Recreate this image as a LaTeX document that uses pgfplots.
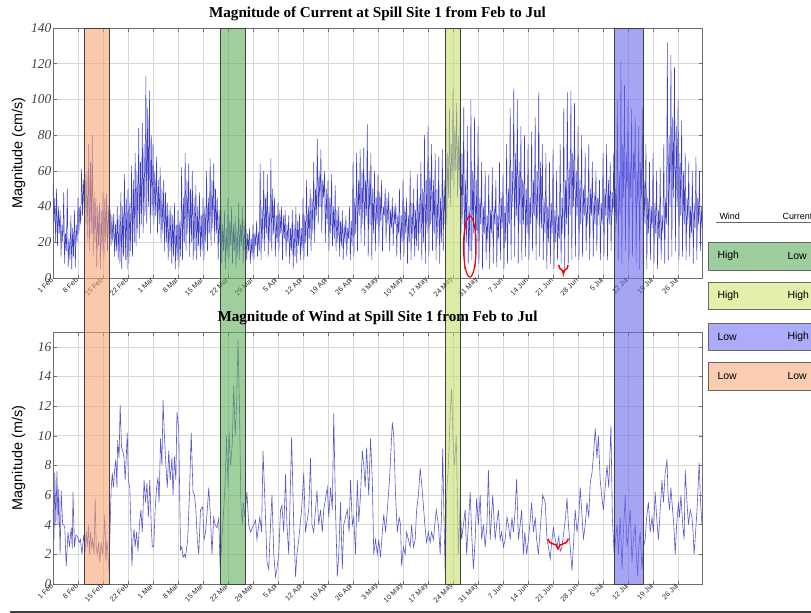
\documentclass[border=0pt]{standalone}
\usepackage{fontspec}
\setmainfont{Liberation Serif}
\setsansfont{Liberation Sans}
\usepackage{pgfplots}
\usepackage{pgfplotstable}
\pgfplotsset{compat=1.18}
\usetikzlibrary{decorations.pathreplacing}
\definecolor{dataline}{RGB}{62,62,196}
\definecolor{windline}{RGB}{88,88,204}
\definecolor{gridc}{RGB}{216,216,216}
\definecolor{axisc}{RGB}{110,110,110}
\definecolor{bandOrange}{RGB}{247,163,113}
\definecolor{bandGreen}{RGB}{95,175,90}
\definecolor{bandYellow}{RGB}{197,222,105}
\definecolor{bandBlue}{RGB}{105,105,236}
\definecolor{boxGreen}{RGB}{158,206,158}
\definecolor{boxYellow}{RGB}{226,240,172}
\definecolor{boxBlue}{RGB}{172,172,250}
\definecolor{boxOrange}{RGB}{250,204,176}

\pgfplotstableread[row sep=\\, header=false]{
52\\30\\45\\20\\ 50\\18\\40\\25\\ 38\\12\\30\\20\\ 48\\8\\25\\15\\ 50\\6\\22\\10\\ 35\\5\\28\\12\\ 38\\6\\30\\20\\
45\\25\\40\\30\\ 61\\35\\55\\38\\ 58\\30\\60\\20\\ 75\\15\\65\\25\\ 80\\12\\48\\20\\ 45\\6\\40\\18\\ 42\\5\\38\\15\\
48\\10\\45\\20\\ 47\\15\\40\\22\\ 38\\18\\35\\20\\ 36\\12\\30\\15\\ 40\\10\\35\\8\\ 48\\5\\40\\12\\ 58\\10\\45\\5\\
50\\8\\42\\15\\ 63\\12\\55\\20\\ 70\\18\\60\\25\\ 84\\22\\65\\30\\ 87\\25\\75\\35\\ 113\\30\\95\\40\\ 105\\25\\80\\35\\
75\\30\\60\\35\\ 68\\25\\55\\30\\ 62\\20\\50\\25\\ 55\\15\\48\\20\\ 42\\10\\38\\15\\ 40\\8\\35\\12\\ 42\\5\\30\\10\\
38\\6\\32\\12\\ 62\\10\\45\\20\\ 70\\15\\55\\25\\ 64\\12\\50\\20\\ 60\\10\\45\\15\\ 52\\10\\40\\18\\ 48\\12\\35\\15\\
45\\10\\40\\20\\ 60\\15\\45\\25\\ 67\\18\\55\\28\\ 64\\20\\50\\25\\ 45\\10\\38\\20\\ 42\\8\\30\\15\\ 38\\5\\28\\12\\
45\\10\\32\\18\\ 40\\8\\30\\15\\ 35\\6\\28\\12\\ 42\\10\\30\\18\\ 40\\8\\32\\15\\ 30\\10\\25\\15\\ 28\\8\\22\\12\\
30\\10\\25\\18\\ 32\\12\\26\\15\\ 64\\10\\40\\20\\ 60\\15\\45\\25\\ 58\\12\\40\\20\\ 67\\15\\50\\25\\ 45\\12\\35\\20\\
42\\15\\38\\25\\ 40\\10\\35\\22\\ 38\\12\\30\\20\\ 35\\8\\28\\15\\ 38\\5\\30\\12\\ 40\\8\\32\\18\\ 36\\10\\28\\15\\
45\\10\\35\\20\\ 55\\12\\40\\22\\ 50\\15\\45\\25\\ 65\\20\\50\\35\\ 78\\30\\60\\40\\ 72\\25\\55\\45\\ 60\\20\\50\\30\\
55\\15\\45\\25\\ 58\\18\\40\\22\\ 52\\15\\38\\20\\ 40\\12\\32\\18\\ 38\\10\\30\\20\\ 35\\12\\28\\22\\ 40\\10\\32\\18\\
65\\12\\45\\25\\ 70\\15\\55\\35\\ 72\\20\\60\\30\\ 73\\18\\55\\35\\ 86\\12\\60\\30\\ 70\\10\\50\\25\\ 60\\15\\45\\30\\
58\\18\\48\\32\\ 55\\15\\40\\35\\ 50\\20\\45\\30\\ 48\\15\\38\\28\\ 45\\18\\40\\30\\ 42\\12\\35\\25\\ 50\\10\\35\\20\\
55\\12\\40\\25\\ 45\\8\\35\\20\\ 60\\10\\42\\22\\ 50\\12\\38\\18\\ 58\\15\\45\\25\\ 65\\10\\50\\20\\ 80\\8\\55\\25\\
85\\12\\60\\30\\ 75\\15\\55\\25\\ 70\\10\\50\\22\\ 68\\8\\45\\20\\ 72\\15\\55\\30\\ 90\\30\\70\\45\\ 95\\40\\75\\55\\
106\\50\\85\\60\\ 98\\45\\80\\50\\ 95\\25\\70\\30\\ 96\\5\\55\\20\\ 85\\8\\40\\15\\ 100\\10\\60\\25\\ 90\\6\\55\\20\\
85\\8\\45\\30\\ 65\\5\\40\\25\\ 60\\10\\35\\20\\ 58\\5\\38\\25\\ 62\\8\\40\\30\\ 55\\6\\35\\22\\ 65\\10\\45\\28\\
58\\5\\40\\20\\ 75\\8\\50\\30\\ 95\\10\\60\\40\\ 106\\12\\70\\35\\ 100\\8\\65\\30\\ 85\\10\\55\\30\\ 80\\12\\50\\25\\
75\\10\\45\\30\\ 82\\15\\55\\35\\ 90\\10\\60\\30\\ 104\\12\\65\\28\\ 75\\10\\45\\25\\ 70\\5\\40\\20\\ 65\\8\\42\\25\\
72\\5\\38\\20\\ 60\\10\\35\\22\\ 75\\8\\45\\25\\ 95\\5\\55\\30\\ 104\\8\\65\\35\\ 105\\10\\70\\40\\ 98\\12\\60\\35\\
85\\10\\55\\30\\ 80\\12\\50\\35\\ 70\\15\\45\\30\\ 75\\10\\50\\35\\ 65\\12\\48\\30\\ 60\\15\\45\\35\\ 55\\10\\42\\30\\
70\\12\\50\\35\\ 75\\10\\55\\30\\ 65\\15\\48\\35\\ 70\\12\\50\\30\\ 100\\10\\60\\35\\ 121\\8\\75\\45\\ 108\\15\\70\\50\\
100\\10\\65\\45\\ 95\\12\\70\\55\\ 90\\8\\60\\40\\ 85\\5\\65\\45\\ 95\\8\\55\\30\\ 75\\5\\45\\25\\ 65\\10\\40\\28\\
70\\8\\42\\25\\ 60\\5\\38\\22\\ 62\\10\\35\\25\\ 75\\8\\45\\30\\ 132\\10\\80\\40\\ 125\\12\\90\\45\\ 118\\15\\85\\40\\
100\\10\\70\\35\\ 88\\12\\60\\30\\ 70\\10\\45\\30\\ 65\\12\\40\\25\\ 60\\8\\42\\28\\ 68\\10\\45\\30\\ 60\\15\\40\\28\\
}\currenttable

\pgfplotsset{chartstyle/.style={
  scale only axis, width=649bp, xmin=0, xmax=181.7,
  xtick={0,7,...,175},
  xticklabels={1 Feb,8 Feb,15 Feb,22 Feb,1 Mar,8 Mar,15 Mar,22 Mar,29 Mar,5 Apr,12 Apr,19 Apr,26 Apr,3 May,10 May,17 May,24 May,31 May,7 Jun,14 Jun,21 Jun,28 Jun,5 Jul,12 Jul,19 Jul,26 Jul},
  grid=major, major grid style={gridc, line width=0.6pt},
  axis line style={axisc, line width=0.6pt}, tick style={axisc, line width=0.5pt},
  major tick length=3.5bp, tick align=inside,
  /pgf/number format/assume math mode=true,
  x tick label style={rotate=45, anchor=east, font=\sffamily\fontsize{7.2}{7.5}\selectfont, inner sep=1.5bp, text=black!85},
  y tick label style={font=\itshape\fontsize{13.5}{14}\selectfont, inner sep=1.5bp, text=black!75},
  ylabel style={at={(axis description cs:-0.053,0.5)}, anchor=center, font=\sffamily\fontsize{14.5}{15}\selectfont},
  title style={font=\bfseries\fontsize{15.2}{16}\selectfont, at={(axis description cs:0.5,1)}, anchor=south, yshift=-2.5bp},
  clip=false,
}}

\begin{document}
\begin{tikzpicture}
\useasboundingbox (0,0) rectangle (811bp,-613bp);
\clip (0,0) rectangle (811bp,-613bp);

\begin{axis}[chartstyle,
  at={(53bp,-278bp)}, anchor=south west, height=250bp,
  ymin=0, ymax=140, ytick={0,20,...,140},
  ylabel={Magnitude (cm/s)},
  title={Magnitude of Current at Spill Site 1 from Feb to Jul}]
\addplot[dataline, line width=0.5pt, no markers] table[x expr=\coordindex*0.25, y index=0] {\currenttable};
\draw[red, line width=1.2pt] (axis cs:116.7,17.6) ellipse [x radius=6.3bp, y radius=30.5bp];
\draw[red, line width=1.5pt, decorate, decoration={brace, amplitude=9bp, mirror}] (axis cs:141.6,7.3) -- (axis cs:144.2,7.3);
\end{axis}

\begin{axis}[chartstyle,
  at={(53bp,-584bp)}, anchor=south west, height=252bp,
  ymin=0, ymax=17, ytick={0,2,...,16},
  ylabel={Magnitude (m/s)},
  title={Magnitude of Wind at Spill Site 1 from Feb to Jul}]
\addplot[windline, line width=0.6pt, no markers] coordinates {
(0,5) (0.3,3) (0.5,7.5) (0.8,4) (1.1,7.6) (1.4,4) (1.6,6.4) (2.0,2) (2.3,6.3) (2.7,4) (3.0,4) (3.3,3.8) (3.7,1.2) (4.2,3.5) (4.6,2.5) (5.1,3.8) (5.4,2.4) (5.6,6.2) (6.0,2.5) (6.4,3.3) (6.9,3.2) (7.3,2.8) (7.7,3) (8.1,2) (8.6,3.3) (9.0,2.2) (9.3,3.5) (9.6,2.5) (9.9,4) (10.2,2) (10.5,3.5) (10.8,2.5) (11.1,3) (11.5,2) (11.8,5.8) (12.1,2.5) (12.4,2) (12.8,2.8) (13.1,1.5) (13.5,2.8) (13.9,2) (14.2,3) (14.5,4.7) (14.8,1.5) (15.1,3) (15.4,2) (15.7,0.8) (16.0,4) (16.3,6.5) (16.6,7.5) (16.9,6.5) (17.3,7.8) (17.6,8.4) (17.9,6.5) (18.1,9.7) (18.5,8.5) (18.8,12.1) (19.2,9.2) (19.5,9) (19.9,8.5) (20.2,7) (20.5,8.5) (20.8,10.2) (21.1,7) (21.5,6.5) (21.8,4) (22.1,1.2) (22.4,3) (22.7,3.7) (23.0,2.5) (23.4,3.5) (23.8,2.2) (24.2,4) (24.6,5) (25.0,3.5) (25.5,7) (25.9,5.5) (26.3,6.8) (26.7,4.5) (27.1,7) (27.5,4) (27.8,2.5) (28.2,2.5) (28.6,5) (29.0,6.5) (29.4,7.2) (29.7,5.5) (30.1,9.8) (30.5,8) (30.8,12.4) (31.2,10) (31.6,8) (32.0,6.5) (32.4,9) (32.8,7) (33.3,8.5) (33.6,6) (34.0,8.6) (34.4,7) (34.7,11.6) (35.2,10.5) (35.7,2.3) (36.1,2.5) (36.4,1.8) (36.8,2) (37.1,1.8) (37.7,3) (38.2,6) (38.7,10.2) (39.2,6.2) (39.6,6) (40.0,5) (40.4,3) (40.8,2) (41.3,5) (41.9,5.2) (42.3,3) (42.7,3.5) (43.2,5) (43.6,6.5) (44.1,4.5) (44.5,2) (45.0,4.5) (45.4,4) (45.9,3.8) (46.4,4.4) (46.8,1) (47.3,3) (47.8,5) (48.2,7) (48.6,10) (49.0,6.5) (49.3,10.3) (49.7,8) (50.2,9.5) (50.6,13.4) (51.0,10) (51.4,12) (51.8,16.5) (52.2,12) (52.6,5.5) (53.0,4) (53.3,5.5) (53.7,4.5) (54.3,6.2) (54.8,4) (55.3,3.5) (56.0,3.9) (56.7,4.3) (57.1,3) (57.9,4.5) (58.4,3.5) (58.8,9.0) (59.5,4.5) (59.9,1.5) (60.4,1) (60.9,4) (61.3,6) (61.8,2) (62.3,0.5) (62.7,1) (63.2,2) (63.7,5) (64.1,5.3) (64.6,3.5) (65.1,7.4) (65.5,4) (66.0,2) (66.8,9.9) (67.4,4) (67.9,0.5) (68.3,2) (68.8,3) (69.6,5) (70.2,7.5) (70.7,3.5) (71.6,5) (72.1,8.5) (72.5,4) (73.0,3.5) (73.9,6.3) (74.4,4) (74.9,5) (75.4,3.5) (75.8,5) (76.8,6.5) (77.2,4.5) (77.7,6.5) (78.2,5) (78.6,11.5) (79.1,5) (79.6,0.5) (80.0,2) (80.5,5.5) (81.0,1) (81.4,4) (82.4,5) (82.9,3.5) (83.3,7) (83.8,4) (84.2,4.5) (84.7,2) (85.2,7) (85.6,4.2) (86.1,6) (86.6,9) (87.0,8) (87.4,6.5) (87.8,9.2) (88.4,6) (88.9,9.8) (89.4,7) (89.8,2) (90.3,3) (90.8,2) (91.2,3) (91.7,1.8) (92.2,3.5) (92.6,4.7) (93.1,3.5) (93.6,5) (94.2,7) (95.0,10.9) (95.4,10) (95.9,6) (96.4,3.5) (96.9,4.5) (97.3,4) (97.6,1.2) (98.1,2.5) (98.6,2) (99.0,3.5) (99.5,3) (100.0,2.5) (100.4,4) (100.9,2.5) (101.4,3) (101.8,5) (102.3,6) (102.8,7.8) (103.2,6.8) (103.7,5.3) (104.1,4) (104.6,2.8) (105.1,3.5) (105.6,2.8) (106.0,3.5) (106.5,3) (107.3,5) (107.9,4) (108.4,2) (108.8,5) (109.1,9.1) (109.5,4) (109.8,0.7) (110.2,6) (110.7,8) (111.2,11.5) (111.6,13.2) (112.1,9) (112.4,8) (112.9,10) (113.2,6) (113.5,2) (114.0,5.6) (114.4,3) (114.9,4) (115.4,5) (115.8,2) (116.3,4) (116.8,6.2) (117.2,3.5) (117.7,1) (118.2,3) (118.6,5.8) (119.1,4) (119.6,6) (120.0,3) (120.5,4) (121.0,2.5) (121.5,4) (121.9,7.7) (122.4,3) (123.1,6) (123.8,3) (124.2,4) (124.7,5) (125.2,3) (125.6,3.5) (126.1,2.5) (126.6,3) (127.1,4.5) (127.5,4) (128.0,3) (128.5,4.5) (128.9,3.5) (129.4,5) (129.8,7.1) (130.3,3) (130.8,4) (131.2,5) (131.7,2) (132.1,3.5) (132.6,2) (133.1,3) (133.5,4) (134.0,5.5) (134.5,3.5) (135.0,4.5) (135.4,3) (135.9,2) (136.5,4) (137.1,6) (137.8,5.5) (138.3,3) (138.7,2.5) (139.2,1.7) (139.6,2.8) (140.1,3.8) (140.6,3) (141.1,2.5) (141.6,3.2) (142.0,2.2) (142.5,2.5) (143.0,3.5) (143.5,4.5) (143.9,5.8) (144.3,4) (144.8,2.5) (145.3,0.9) (145.8,3) (146.2,5) (146.7,3.5) (147.2,4.5) (147.6,6.5) (148.0,5) (148.5,3) (149.0,4) (149.5,5.5) (150.0,4.5) (150.4,6.8) (150.9,7.5) (151.4,9) (151.8,10.5) (152.3,8.5) (152.7,10) (153.2,7) (153.6,6) (154.1,5) (154.6,6.5) (155.1,8) (155.6,6.5) (156.2,10.7) (156.6,4.5) (157.1,2) (157.5,3) (157.9,4) (158.3,2) (158.8,4.5) (159.3,1) (159.7,3.5) (160.2,6) (160.7,2.5) (161.1,3.5) (161.6,5) (162.1,1.5) (162.5,3) (163.0,4) (163.3,2) (163.7,0.5) (164.0,2.5) (164.4,3.5) (164.9,1) (165.3,2.5) (165.8,3) (166.2,4.5) (166.7,5.5) (167.2,3.5) (167.7,4.5) (168.1,3.5) (168.6,6.2) (169.0,4.5) (169.5,3) (170.0,5) (170.5,7) (170.9,5.5) (171.4,7.5) (171.9,8.4) (172.2,6) (172.6,5) (173.0,6.5) (173.3,5.5) (173.8,4) (174.2,2) (174.6,4) (175.1,5.5) (175.4,4.5) (175.8,6) (176.3,4) (176.7,3) (177.0,7.7) (177.5,5.5) (177.9,4) (178.4,5) (178.9,4.5) (179.2,3.5) (179.5,2) (179.9,3.5) (180.3,5) (180.6,6.5) (180.9,8.2) (181.3,5.5) (181.7,4)
};
\draw[red, line width=1.5pt, decorate, decoration={brace, amplitude=10bp, mirror}] (axis cs:138.5,3.05) -- (axis cs:144.3,3.05);
% highlight bands spanning both panels (top of upper panel is y=37.49 in these units)
\fill[bandOrange, fill opacity=0.6] (axis cs:8.7,0) rectangle (axis cs:15.7,37.49);
\draw[black!75, line width=0.6pt] (axis cs:8.7,0) rectangle (axis cs:15.7,37.49);
\fill[bandGreen, fill opacity=0.6] (axis cs:46.8,0) rectangle (axis cs:53.8,37.49);
\draw[black!75, line width=0.6pt] (axis cs:46.8,0) rectangle (axis cs:53.8,37.49);
\fill[bandYellow, fill opacity=0.6] (axis cs:109.9,0) rectangle (axis cs:114.0,37.49);
\draw[black!75, line width=0.6pt] (axis cs:109.9,0) rectangle (axis cs:114.0,37.49);
\fill[bandBlue, fill opacity=0.6] (axis cs:157.1,0) rectangle (axis cs:165.2,37.49);
\draw[black!75, line width=0.6pt] (axis cs:157.1,0) rectangle (axis cs:165.2,37.49);
\end{axis}

% legend table on the right
\node[anchor=base west, font=\sffamily\fontsize{9}{9}\selectfont] at (716bp,-219bp) {Wind};
\node[anchor=base west, font=\sffamily\fontsize{9}{9}\selectfont] at (779bp,-219bp) {Current};
\draw[black!60, line width=0.6pt] (716bp,-222bp) -- (830bp,-222bp);
\foreach \ya/\yb/\bcol/\wtxt/\ctxt in {242/270/boxGreen/High/Low, 282/309/boxYellow/High/High, 323/350/boxBlue/Low/High, 362/390/boxOrange/Low/Low}{
  \filldraw[fill=\bcol, draw=black!60, line width=0.7pt] (708bp,-\ya bp) rectangle (840bp,-\yb bp);
  \node[anchor=west, font=\sffamily\fontsize{10.5}{10.5}\selectfont] at (714bp,{-(\ya+\yb)/2*1bp}) {\wtxt};
  \node[anchor=west, font=\sffamily\fontsize{10.5}{10.5}\selectfont] at (784bp,{-(\ya+\yb)/2*1bp}) {\ctxt};
}
\draw[black!75, line width=1.6pt] (10bp,-611.8bp) -- (811bp,-611.8bp);
\end{tikzpicture}
\end{document}
